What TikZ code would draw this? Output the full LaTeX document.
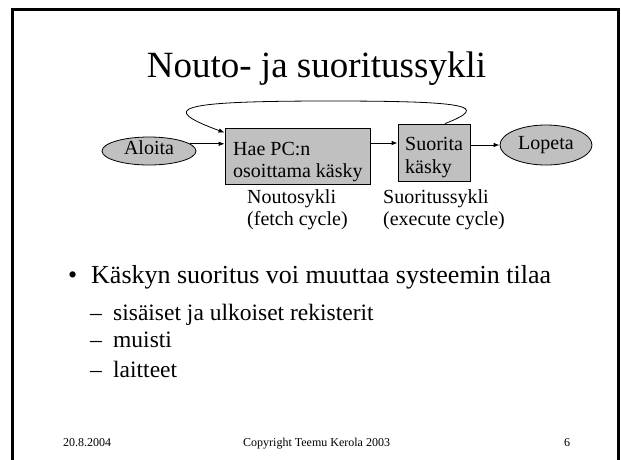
\documentclass[tikz,border=0pt]{standalone}
\usepackage{fontspec}
\setmainfont{Liberation Serif}
\usetikzlibrary{shapes.geometric,arrows.meta}
\definecolor{fillgray}{RGB}{192,192,192}
\begin{document}
\begin{tikzpicture}[x=1pt,y=-1pt,
  txt/.style={inner sep=0pt,anchor=base west,font=\fontsize{20}{22}\selectfont},
  bigtxt/.style={inner sep=0pt,anchor=base west,font=\fontsize{26}{30}\selectfont},
  subtxt/.style={inner sep=0pt,anchor=base west,font=\fontsize{23.5}{27}\selectfont},
  foot/.style={inner sep=0pt,anchor=base west,font=\fontsize{12}{14}\selectfont},
  ell/.style={ellipse,draw=black,fill=fillgray,line width=0.8pt,inner sep=0pt,font=\fontsize{20}{22}\selectfont},
  boxn/.style={rectangle,draw=black,fill=fillgray,line width=0.8pt,inner sep=0pt},
  arr/.style={line width=0.8pt,-{Latex[length=6pt,width=4.5pt]}}]
\useasboundingbox (0,0) rectangle (621,459);
\fill[white] (0,0) rectangle (621,459);
\draw[line width=2.5pt] (12.5,475) -- (12.5,9.5) -- (618.5,9.5) -- (618.5,475);

\node[anchor=base,inner sep=0pt,font=\fontsize{37}{40}\selectfont] (title) at (316.5,77) {Nouto- ja suoritussykli};

\node[ell,minimum width=94pt,minimum height=28pt,text height=12pt,text depth=6pt] (aloita) at (149,151) {Aloita};
\node[ell,minimum width=92pt,minimum height=40pt] (lopeta) at (546,145) {Lopeta};
\node[boxn,minimum width=145pt,minimum height=56pt] (hae) at (297.5,156) {};
\node[boxn,minimum width=72pt,minimum height=57pt] (suor) at (434,152.5) {};

\node[txt] (t1) at (233,155) {Hae PC:n};
\node[txt] (t2) at (233,177) {osoittama käsky};
\node[txt] (t3) at (405,150) {Suorita};
\node[txt] (t4) at (405,173) {käsky};
\node[txt] (t5) at (247,203) {Noutosykli};
\node[txt] (t6) at (247,225) {(fetch cycle)};
\node[txt] (t7) at (383,203) {Suoritussykli};
\node[txt] (t8) at (383,225) {(execute cycle)};

\coordinate (r2) at (0,143);
\draw[arr] (aloita.10) -- (hae.west |- aloita.10);
\draw[arr] (hae.east |- r2) -- (suor.west |- r2);
\draw[arr] (suor.east |- lopeta.west) -- (lopeta.west);
\draw[arr] ([xshift=11pt]suor.north) .. controls (490,106) and (470,101) .. (330,101)
  .. controls (175,101) and (158,108) .. ([yshift=-5pt]hae.north west);

\node[bigtxt] (b0) at (68,283) {•};
\node[bigtxt] (b1) at (91,283) {Käskyn suoritus voi muuttaa systeemin tilaa};
\node[subtxt] (d1) at (90,320) {–};
\node[subtxt] (s1) at (113,320) {sisäiset ja ulkoiset rekisterit};
\node[subtxt] (d2) at (90,347) {–};
\node[subtxt] (s2) at (113,347) {muisti};
\node[subtxt] (d3) at (90,377) {–};
\node[subtxt] (s3) at (113,377) {laitteet};

\node[foot] (f1) at (63,446) {20.8.2004};
\node[foot] (f2) at (243,446) {Copyright Teemu Kerola 2003};
\node[foot] (f3) at (564,446) {6};
\end{tikzpicture}
\end{document}
